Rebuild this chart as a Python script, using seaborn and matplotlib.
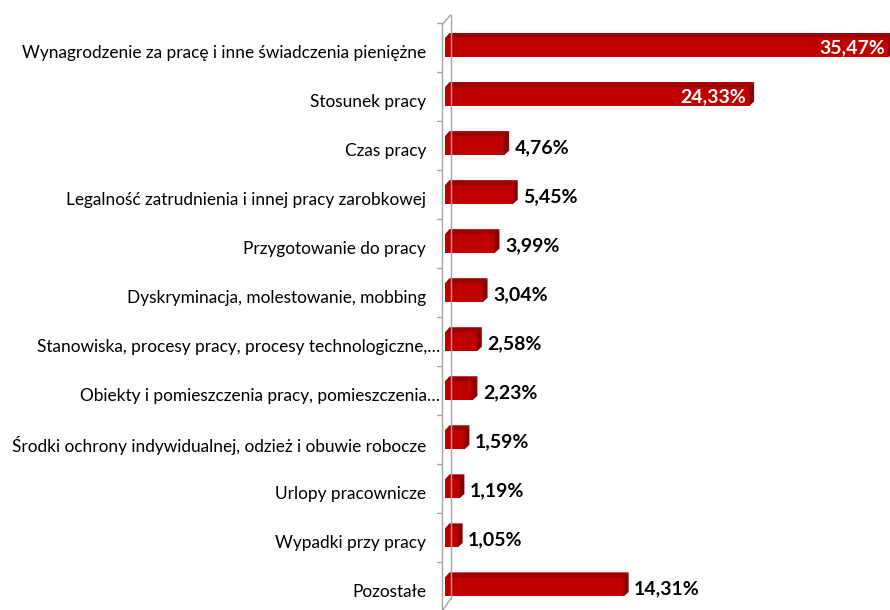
import matplotlib
matplotlib.use("Agg")
import matplotlib.pyplot as plt
from matplotlib.patches import Polygon
from matplotlib.lines import Line2D
from matplotlib.transforms import IdentityTransform, ScaledTranslation
import seaborn as sns
import pandas as pd

categories = [
    "Wynagrodzenie za pracę i inne świadczenia pieniężne",
    "Stosunek pracy",
    "Czas pracy",
    "Legalność zatrudnienia i innej pracy zarobkowej",
    "Przygotowanie do pracy",
    "Dyskryminacja, molestowanie, mobbing",
    "Stanowiska, procesy pracy, procesy technologiczne,…",
    "Obiekty i pomieszczenia pracy, pomieszczenia…",
    "Środki ochrony indywidualnej, odzież i obuwie robocze",
    "Urlopy pracownicze",
    "Wypadki przy pracy",
    "Pozostałe",
]
shares = [35.47, 24.33, 4.76, 5.45, 3.99, 3.04, 2.58, 2.23, 1.59, 1.19, 1.05, 14.31]
inside_labels = [True, True] + [False] * 10

W, H = 890, 610
sns.set_theme(style="white")
plt.rcParams["font.family"] = ["Lato", "DejaVu Sans"]

fig = plt.figure(figsize=(W / 100, H / 100), dpi=100)
fig.patch.set_facecolor("white")

# plot area in pixel terms (origin top-left)
x0_px, y_top_px, y_bot_px = 445, 22.8, 611.2
ax = fig.add_axes([x0_px / W, 1 - y_bot_px / H, (W - x0_px) / W, (y_bot_px - y_top_px) / H])

df = pd.DataFrame({"kategoria": categories, "udzial": shares})
sns.barplot(data=df, x="udzial", y="kategoria", orient="h", color="#C00000",
            saturation=1, width=0.40, ax=ax, edgecolor="none")

px_per_unit = 12.52
ax.set_xlim(0, (W - x0_px) / px_per_unit)
ax.set_ylim(len(categories) - 0.5, -0.5)
ax.set_xlabel("")
ax.set_ylabel("")
ax.set_xticks([])
for s in ax.spines.values():
    s.set_visible(False)
ax.patch.set_alpha(0)
ax.tick_params(axis="y", length=0, pad=13.7, labelsize=12.4, labelcolor="#000000")

# category labels sit slightly below bar centre; truncated ones a bit further right
for lbl in ax.get_yticklabels():
    dx = 14 if lbl.get_text().endswith("…") else 0
    lbl.set_transform(lbl.get_transform() + ScaledTranslation(dx / 100, -4 / 100, fig.dpi_scale_trans))

# 3D faces for each bar (display coordinates)
d = 4.5
for patch in ax.patches:
    x, y = patch.get_x(), patch.get_y()
    w, h = patch.get_width(), patch.get_height()
    (xa, ya), (xb, yb) = ax.transData.transform([(x, y + h), (x + w, y)])
    lo, hi = min(ya, yb), max(ya, yb)
    top = Polygon([(xa, hi - 0.6), (xb, hi - 0.6), (xb + d, hi + d), (xa + d, hi + d)],
                  closed=True, facecolor="#9C0000", edgecolor="none",
                  transform=IdentityTransform(), clip_on=False, zorder=0.5)
    side = Polygon([(xb - 0.6, lo), (xb - 0.6, hi), (xb + d, hi + d), (xb + d, lo + d)],
                   closed=True, facecolor="#8A0000", edgecolor="none",
                   transform=IdentityTransform(), clip_on=False, zorder=0.5)
    fig.add_artist(top)
    fig.add_artist(side)

# wall edges and category ticks
grey = "#A6A6A6"
def line(xs, ys_img, **kw):
    fig.add_artist(Line2D(xs, [H - v for v in ys_img], transform=IdentityTransform(),
                          color=grey, linewidth=1.0, **kw))

line([442, 442], [25, 610])
line([450.5, 450.5], [15, 599])
line([442, 450.5], [25, 15])
line([450.5, 443], [599, 610])
for i in range(len(categories) + 1):
    yb = i - 0.5
    _, ydisp = ax.transData.transform((0, yb))
    fig.add_artist(Line2D([437, 442], [ydisp, ydisp], transform=IdentityTransform(),
                          color=grey, linewidth=1.0))

# value labels
for patch, v, inside in zip(ax.patches, shares, inside_labels):
    yc = patch.get_y() + patch.get_height() / 2
    txt = f"{v:.2f}".replace(".", ",") + "%"
    if inside:
        ax.annotate(txt, (v, yc), xytext=(-4, 0), textcoords="offset pixels",
                    ha="right", va="center", color="white", fontsize=14,
                    fontweight="bold", annotation_clip=False, zorder=5)
    else:
        ax.annotate(txt, (v, yc), xytext=(10, -2), textcoords="offset pixels",
                    ha="left", va="center", color="black", fontsize=14,
                    fontweight="bold", annotation_clip=False)

fig.savefig("out.png", dpi=100)
